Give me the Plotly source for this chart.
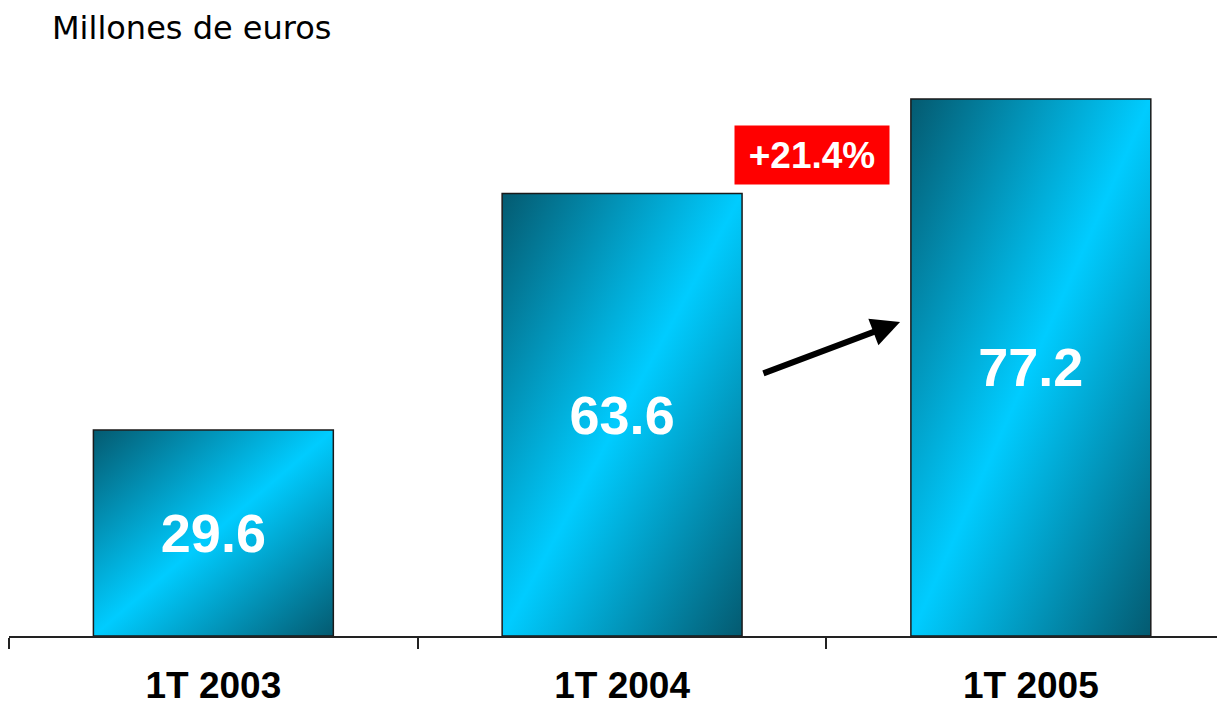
import base64
import plotly.graph_objects as go

categories = ["1T 2003", "1T 2004", "1T 2005"]
values = [29.6, 63.6, 77.2]
value_labels = ["29.6", "63.6", "77.2"]
growth_label = "+21.4%"
unit_title = "Millones de euros"

BAR_W = 0.587
DARK = "#045a70"
BRIGHT = "#00ccff"

svg = (
    '<svg xmlns="http://www.w3.org/2000/svg" width="100" height="100" '
    'viewBox="0 0 100 100" preserveAspectRatio="none">'
    '<defs><linearGradient id="g" x1="0" y1="0" x2="1" y2="1">'
    f'<stop offset="0" stop-color="{DARK}"/>'
    f'<stop offset="0.5" stop-color="{BRIGHT}"/>'
    f'<stop offset="1" stop-color="{DARK}"/>'
    '</linearGradient></defs>'
    '<rect x="0" y="0" width="100" height="100" fill="url(#g)"/></svg>'
)
grad_uri = "data:image/svg+xml;base64," + base64.b64encode(svg.encode()).decode()

fig = go.Figure()
fig.add_trace(go.Bar(
    x=categories, y=values, width=BAR_W,
    marker=dict(color="rgba(0,0,0,0)", line=dict(color="#1a1a1a", width=1.5)),
    text=value_labels, textposition="inside", insidetextanchor="middle",
    constraintext="none",
    textfont=dict(family="Liberation Sans, Arial, sans-serif", size=54, color="white", weight="bold"),
    hoverinfo="skip",
))

images = []
for i, v in enumerate(values):
    images.append(dict(
        source=grad_uri, xref="x", yref="y",
        x=i - BAR_W / 2, y=v, sizex=BAR_W, sizey=v,
        xanchor="left", yanchor="top", sizing="stretch", layer="below",
    ))

annotations = [
    dict(text=unit_title, xref="paper", yref="paper", x=0.0337, y=1.0556,
         xanchor="left", yanchor="middle", showarrow=False,
         font=dict(family="DejaVu Sans, sans-serif", size=32, color="black")),
    dict(text=f"<b>{growth_label}</b>", x=1.465, y=69.15, xref="x", yref="y",
         showarrow=False, bgcolor="#ff0000", width=152, height=56,
         font=dict(family="Liberation Sans, Arial, sans-serif", size=37, color="white")),
    dict(text="", x=1.680, y=45.14, ax=1.342, ay=37.67, xref="x", yref="y",
         axref="x", ayref="y", showarrow=True, arrowhead=2, arrowwidth=6,
         arrowsize=0.95, arrowcolor="black", standoff=0),
]

fig.update_layout(
    width=1217, height=708,
    margin=dict(l=1, r=0, t=52, b=80, autoexpand=False),
    paper_bgcolor="white", plot_bgcolor="rgba(0,0,0,0)",
    showlegend=False, bargap=0.4,
    images=images, annotations=annotations,
    xaxis=dict(
        type="category", range=[-0.5, 2.475], automargin=False,
        showline=True, linecolor="#222222", linewidth=2,
        ticks="outside", tickson="boundaries", ticklen=11, tickwidth=2, tickcolor="#222222",
        ticklabelstandoff=16, showgrid=False,
        tickfont=dict(family="Liberation Sans, Arial, sans-serif", size=37, color="black", weight="bold"),
    ),
    yaxis=dict(visible=False, range=[0, 82.8], showgrid=False, zeroline=False, automargin=False),
)

fig.write_html("out.html")
